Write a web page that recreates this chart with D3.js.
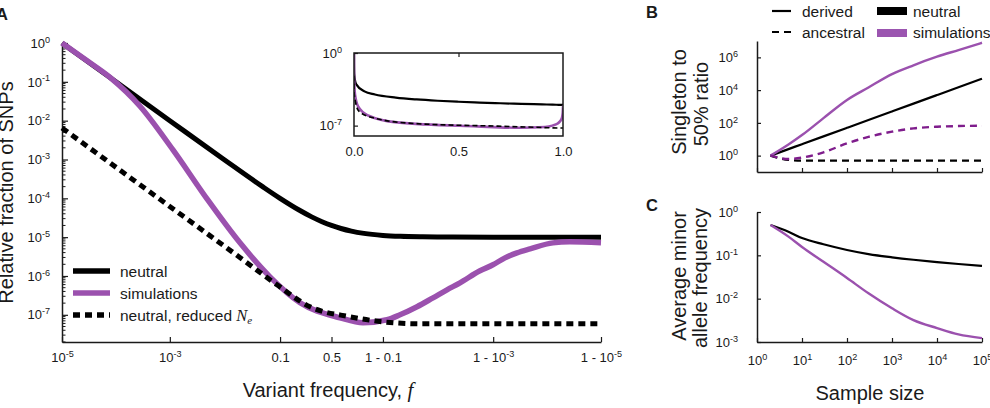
<!DOCTYPE html>
<html><head><meta charset="utf-8">
<script src="https://cdn.jsdelivr.net/npm/d3@7"></script>
<style>
body{margin:0;background:#fff}
svg{display:block;font-family:"Liberation Sans",Arial,sans-serif}
</style>
</head><body><svg id="c" width="990" height="408"></svg>
<script>
// ---------- Panel A data (variant frequency f, relative fraction of SNPs) ----------
const neutralF = [1e-5, 1e-4, 1e-3, 0.01, 0.05, 0.1, 0.2, 0.3, 0.4, 0.5, 0.6, 0.7, 0.8, 0.9, 0.95, 0.98, 0.99, 0.999, 0.9999, 0.99999];
const neutralV = [1, 0.1, 0.01, 1e-3, 2e-4, 1e-4, 5e-5, 3.33e-5, 2.5e-5, 2e-5, 1.67e-5, 1.43e-5, 1.25e-5, 1.11e-5, 1.05e-5, 1.02e-5, 1.01e-5, 1e-5, 1e-5, 1e-5];
const simF = [1e-5, 2.67e-5, 7.78e-5, 2.8e-4, 1.145e-3, 4.876e-3, 0.01966, 0.0674, 0.2067, 0.5898, 0.7934, 0.9146, 0.94914, 0.97474, 0.98708, 0.99286, 0.995887, 0.998245, 0.99899, 0.999396, 0.999638, 0.999793, 0.999922, 0.999962, 0.99999];
const simV = [1, 0.38, 0.13, 0.0235, 1.765e-3, 9.68e-5, 7.13e-6, 9.5e-7, 2.04e-7, 8.38e-8, 6.24e-8, 7.45e-8, 1.0e-7, 1.61e-7, 2.74e-7, 4.4e-7, 6.67e-7, 1.36e-6, 1.94e-6, 2.93e-6, 3.94e-6, 5.0e-6, 7.13e-6, 7.56e-6, 7.13e-6];
const reducedF = [1e-5, 4.29e-4, 0.0223, 0.0888, 0.2853, 0.6878, 0.9003, 0.9777, 0.99999];
const reducedV = [6.5e-3, 1.45e-4, 2.61e-6, 5.93e-7, 1.61e-7, 8.9e-8, 6.6e-8, 5.88e-8, 5.88e-8];
const aXTicks = [1e-5, 1e-3, 0.1, 0.5, 0.9, 0.999, 0.99999];
const aXLabels = ["10^-5", "10^-3", "0.1", "0.5", "1 - 0.1", "1 - 10^-3", "1 - 10^-5"];
const aYTicks = [1, 1e-1, 1e-2, 1e-3, 1e-4, 1e-5, 1e-6, 1e-7];
const insetXTicks = [0, 0.5, 1];
const insetYTicks = [1, 1e-7];

// ---------- Panels B and C data (sample size) ----------
const sampleSizes = [2, 5, 10, 30, 100, 300, 1000, 3000, 10000, 30000, 100000];
const bNeutralDerived = [1, 2.5, 5, 15, 50, 150, 500, 1500, 5000, 15000, 50000];
const bNeutralAncestral = [1, 0.55, 0.5, 0.5, 0.5, 0.5, 0.5, 0.5, 0.5, 0.5, 0.5];
const bSimDerived = [1, 4.8, 18, 195, 2500, 14500, 95000, 330000, 1100000, 2800000, 7800000];
const bSimAncestral = [1, 0.62, 0.75, 1.6, 5.6, 14, 29, 46, 58, 64, 67];
const cNeutral = [0.5, 0.35, 0.25, 0.18, 0.133, 0.107, 0.09, 0.079, 0.070, 0.063, 0.057];
const cSim = [0.5, 0.27, 0.156, 0.071, 0.030, 0.0133, 0.006, 0.0032, 0.0021, 0.0015, 0.00123];
const sizeTicks = [1, 10, 100, 1000, 10000, 100000];
const bYTicks = [1, 1e2, 1e4, 1e6];
const cYTicks = [1, 1e-1, 1e-2, 1e-3];

// ---------- helpers ----------
const ink = "#1a1a1a";
const purple = "#9b51ae";
const darkPurple = "#7f1d8c";
const svg = d3.select("#c");
const logit = f => Math.log10(f / (1 - f));
const zip = (a, b) => a.map((v, i) => [v, b[i]]);
const powLabel = d => "10^" + Math.round(Math.log10(d));

function styleAxis(g, fs) {
  g.attr("font-family", null).attr("font-size", fs);
  g.selectAll("path.domain").attr("stroke", ink).attr("stroke-width", 1.5);
  g.selectAll(".tick line").attr("stroke", ink).attr("stroke-width", 1.2);
  g.selectAll(".tick text").attr("fill", ink).each(function () {
    const t = d3.select(this);
    const s = t.text();
    const m = s.match(/^(.*?)10\^(-?\d+)$/);
    if (m) {
      t.text(null);
      t.append("tspan").text(m[1] + "10");
      t.append("tspan").attr("dy", "-0.55em").attr("font-size", "0.7em").text(m[2]);
    }
  });
}

// ---------- Panel A ----------
const xA = d3.scaleLinear().domain([logit(1e-5), logit(0.99999)]).range([62, 601]);
const yA = d3.scaleLog().domain([Math.pow(10, -7.7), 1]).range([342, 43]);
const lineA = d3.line().x(d => xA(logit(d[0]))).y(d => yA(d[1])).curve(d3.curveMonotoneX);

const minorA = [];
for (let e = -8; e <= 0; e++) for (let k = 2; k <= 9; k++) {
  const v = k * Math.pow(10, e);
  if (v >= yA.domain()[0] && v <= 1) minorA.push(v);
}
svg.append("g").selectAll("line").data(minorA).join("line")
  .attr("x1", 62).attr("x2", 65.5).attr("y1", d => yA(d)).attr("y2", d => yA(d))
  .attr("stroke", ink).attr("stroke-width", 1);

const gAy = svg.append("g").attr("transform", "translate(62,0)")
  .call(d3.axisLeft(yA).tickValues(aYTicks).tickSize(-6).tickSizeOuter(0).tickPadding(12).tickFormat(powLabel));
styleAxis(gAy, 13);
const gAx = svg.append("g").attr("transform", "translate(0,342)")
  .call(d3.axisBottom(xA).tickValues(aXTicks.map(logit)).tickSize(-5).tickSizeOuter(0).tickPadding(11)
    .tickFormat((d, i) => aXLabels[i]));
styleAxis(gAx, 13);

svg.append("path").attr("d", lineA(zip(neutralF, neutralV))).attr("fill", "none")
  .attr("stroke", "#000").attr("stroke-width", 5);
svg.append("path").attr("d", lineA(zip(simF, simV))).attr("fill", "none")
  .attr("stroke", purple).attr("stroke-width", 5.5).attr("stroke-linejoin", "round");
svg.append("path").attr("d", lineA(zip(reducedF, reducedV))).attr("fill", "none")
  .attr("stroke", "#000").attr("stroke-width", 5).attr("stroke-dasharray", "7,5");

// legend A
const legA = [
  {t: "neutral", c: "#000", dash: null, y: 271},
  {t: "simulations", c: purple, dash: null, y: 293},
  {t: "neutral, reduced ", c: "#000", dash: "7,5", y: 315, ne: true}
];
legA.forEach(l => {
  svg.append("line").attr("x1", 73).attr("x2", 110).attr("y1", l.y).attr("y2", l.y)
    .attr("stroke", l.c).attr("stroke-width", 5.5).attr("stroke-dasharray", l.dash);
  const t = svg.append("text").attr("x", 120).attr("y", l.y + 5.5).attr("font-size", 15.5).attr("fill", ink).text(l.t);
  if (l.ne) {
    t.append("tspan").attr("font-family", "'Liberation Serif',serif").attr("font-style", "italic").attr("font-size", 16.5).text("N");
    t.append("tspan").attr("font-family", "'Liberation Serif',serif").attr("font-style", "italic").attr("font-size", 11).attr("dy", 3).text("e");
  }
});

// axis titles A
svg.append("text").attr("transform", "translate(13,192.5) rotate(-90)").attr("text-anchor", "middle")
  .attr("font-size", 20).attr("fill", ink).text("Relative fraction of SNPs");
const xt = svg.append("text").attr("x", 328).attr("y", 397).attr("text-anchor", "middle")
  .attr("font-size", 20).attr("fill", ink).text("Variant frequency, ");
xt.append("tspan").attr("font-family", "'Liberation Serif',serif").attr("font-style", "italic").attr("font-size", 21).text("f");

// ---------- Inset ----------
const xI = d3.scaleLinear().domain([0, 1]).range([354, 563]);
const yI = d3.scaleLog().domain([1e-8, 1]).range([136, 53]);
const lineI = d3.line().x(d => xI(d[0])).y(d => yI(d[1])).curve(d3.curveMonotoneX);
svg.append("clipPath").attr("id", "insetClip").append("rect")
  .attr("x", 354).attr("y", 53).attr("width", 209).attr("height", 83);
const gI = svg.append("g").attr("clip-path", "url(#insetClip)");
gI.append("path").attr("d", lineI(zip(neutralF, neutralV))).attr("fill", "none").attr("stroke", "#000").attr("stroke-width", 2.2);
gI.append("path").attr("d", lineI(zip(simF, simV))).attr("fill", "none").attr("stroke", purple).attr("stroke-width", 2.6);
gI.append("path").attr("d", lineI(zip(reducedF, reducedV))).attr("fill", "none").attr("stroke", "#000").attr("stroke-width", 1.6).attr("stroke-dasharray", "5,3");
svg.append("rect").attr("x", 354).attr("y", 53).attr("width", 209).attr("height", 83)
  .attr("fill", "none").attr("stroke", ink).attr("stroke-width", 1.5);
const gIt = svg.append("g").attr("transform", "translate(0,53)")
  .call(d3.axisTop(xI).tickValues([0.5]).tickSize(-4).tickSizeOuter(0).tickFormat(""));
styleAxis(gIt, 13); gIt.select("path.domain").remove();
const gIb = svg.append("g").attr("transform", "translate(0,136)")
  .call(d3.axisBottom(xI).tickValues(insetXTicks).tickSize(0).tickSizeOuter(0).tickPadding(11).tickFormat(d3.format(".1f")));
styleAxis(gIb, 13); gIb.select("path.domain").remove();
const gIl = svg.append("g").attr("transform", "translate(354,0)")
  .call(d3.axisLeft(yI).tickValues(insetYTicks).tickSize(-4).tickSizeOuter(0).tickPadding(12).tickFormat(powLabel));
styleAxis(gIl, 13); gIl.select("path.domain").remove();

// ---------- Panel B ----------
const xB = d3.scaleLog().domain([1, 1e5]).range([757, 982]);
const yB = d3.scaleLog().domain([1e-1, 1e7]).range([172, 41]);
const lineB = d3.line().x(d => xB(d[0])).y(d => yB(d[1])).curve(d3.curveMonotoneX);
const gBy = svg.append("g").attr("transform", "translate(757,0)")
  .call(d3.axisLeft(yB).tickValues(bYTicks).tickSize(-4).tickSizeOuter(0).tickPadding(19).tickFormat(powLabel));
styleAxis(gBy, 13);
const gBx = svg.append("g").attr("transform", "translate(0,172)")
  .call(d3.axisBottom(xB).tickValues(sizeTicks).tickSize(-4).tickSizeOuter(0).tickFormat(""));
styleAxis(gBx, 13);
svg.append("path").attr("d", lineB(zip(sampleSizes, bNeutralDerived))).attr("fill", "none").attr("stroke", "#000").attr("stroke-width", 2.2);
svg.append("path").attr("d", lineB(zip(sampleSizes, bNeutralAncestral))).attr("fill", "none").attr("stroke", "#000").attr("stroke-width", 2.2).attr("stroke-dasharray", "7,5");
svg.append("path").attr("d", lineB(zip(sampleSizes, bSimDerived))).attr("fill", "none").attr("stroke", purple).attr("stroke-width", 2.4);
svg.append("path").attr("d", lineB(zip(sampleSizes, bSimAncestral))).attr("fill", "none").attr("stroke", darkPurple).attr("stroke-width", 2.4).attr("stroke-dasharray", "7,5");

// legend B
svg.append("line").attr("x1", 772).attr("x2", 791).attr("y1", 11).attr("y2", 11).attr("stroke", "#000").attr("stroke-width", 2.2);
svg.append("line").attr("x1", 772).attr("x2", 791).attr("y1", 32).attr("y2", 32).attr("stroke", "#000").attr("stroke-width", 2.2).attr("stroke-dasharray", "7,5");
svg.append("text").attr("x", 802).attr("y", 16.5).attr("font-size", 15.5).attr("fill", ink).text("derived");
svg.append("text").attr("x", 802).attr("y", 37.5).attr("font-size", 15.5).attr("fill", ink).text("ancestral");
svg.append("rect").attr("x", 877).attr("y", 7).attr("width", 30).attr("height", 8).attr("fill", "#000");
svg.append("rect").attr("x", 877).attr("y", 29).attr("width", 30).attr("height", 8).attr("fill", "#9b55b0");
svg.append("text").attr("x", 913).attr("y", 16.5).attr("font-size", 15.5).attr("fill", ink).text("neutral");
svg.append("text").attr("x", 913).attr("y", 37.5).attr("font-size", 15.5).attr("fill", ink).text("simulations");

svg.append("text").attr("transform", "translate(686,102) rotate(-90)").attr("text-anchor", "middle")
  .attr("font-size", 20).attr("fill", ink).text("Singleton to");
svg.append("text").attr("transform", "translate(708,104) rotate(-90)").attr("text-anchor", "middle")
  .attr("font-size", 20).attr("fill", ink).text("50% ratio");

// ---------- Panel C ----------
const xC = d3.scaleLog().domain([1, 1e5]).range([757, 982]);
const yC = d3.scaleLog().domain([1e-3, 1]).range([342, 212]);
const lineC = d3.line().x(d => xC(d[0])).y(d => yC(d[1])).curve(d3.curveMonotoneX);
const gCy = svg.append("g").attr("transform", "translate(757,0)")
  .call(d3.axisLeft(yC).tickValues(cYTicks).tickSize(-4).tickSizeOuter(0).tickPadding(19).tickFormat(powLabel));
styleAxis(gCy, 13);
const gCx = svg.append("g").attr("transform", "translate(0,342)")
  .call(d3.axisBottom(xC).tickValues(sizeTicks).tickSize(-4).tickSizeOuter(0).tickPadding(14).tickFormat(powLabel));
styleAxis(gCx, 13);
svg.append("path").attr("d", lineC(zip(sampleSizes, cNeutral))).attr("fill", "none").attr("stroke", "#000").attr("stroke-width", 2.2);
svg.append("path").attr("d", lineC(zip(sampleSizes, cSim))).attr("fill", "none").attr("stroke", purple).attr("stroke-width", 2.4);

svg.append("text").attr("transform", "translate(686,276) rotate(-90)").attr("text-anchor", "middle")
  .attr("font-size", 20).attr("fill", ink).text("Average minor");
svg.append("text").attr("transform", "translate(707,278) rotate(-90)").attr("text-anchor", "middle")
  .attr("font-size", 20).attr("fill", ink).text("allele frequency");
svg.append("text").attr("x", 870).attr("y", 400).attr("text-anchor", "middle")
  .attr("font-size", 20).attr("fill", ink).text("Sample size");

// panel letters
[["A", -4, 20], ["B", 646, 18], ["C", 646, 211]].forEach(([t, x, y]) => {
  svg.append("text").attr("x", x).attr("y", y).attr("font-size", 16.5).attr("font-weight", "bold").attr("fill", ink).text(t);
});
</script>
</body></html>
